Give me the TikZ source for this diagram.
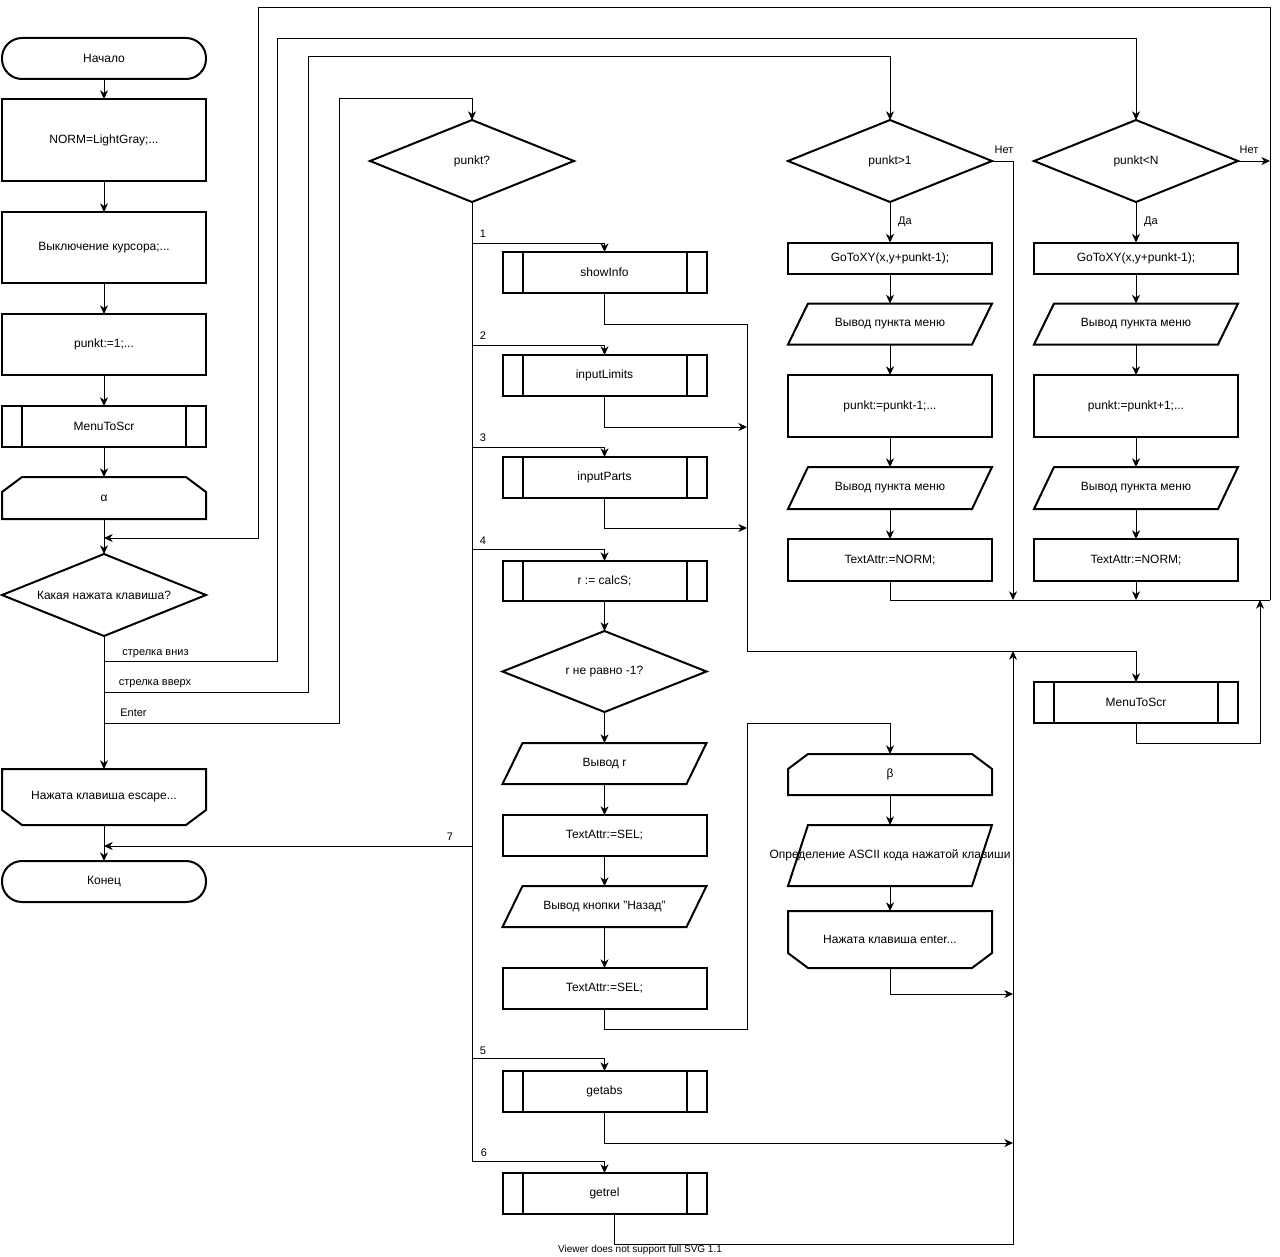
\documentclass[tikz,border=0pt]{standalone}
\usepackage{fontspec}
\setmainfont{Liberation Sans}
\usetikzlibrary{calc,arrows.meta}
\tikzset{
  blk/.style={rectangle, minimum width=153pt, inner sep=0pt, outer sep=0pt, font=\fontsize{9}{11}\selectfont, align=center},
  hh/.style={minimum height=#1*0.75pt},
  proc/.style={blk, draw, line width=1.5pt},
  term/.style={proc, rounded corners=15pt},
  shp/.style={line width=1.5pt, line join=miter},
  con/.style={line width=0.75pt},
  arr/.style={con, -{Stealth[length=6.5pt,width=6pt,inset=2pt]}},
  lbl/.style={font=\fontsize{8.25}{10}\selectfont, inner sep=0pt},
}
\newcommand\mydiam[1]{\draw[shp] (#1.west) -- (#1.north) -- (#1.east) -- (#1.south) -- cycle;}
\newcommand\mypara[1]{\draw[shp] (#1.south west) -- ($(#1.north west)+(20,0)$) -- (#1.north east) -- ($(#1.south east)+(-20,0)$) -- cycle;}
\newcommand\mysub[1]{\draw[shp] ($(#1.north west)+(20,0)$) -- ($(#1.south west)+(20,0)$);
  \draw[shp] ($(#1.north east)+(-20,0)$) -- ($(#1.south east)+(-20,0)$);}
\newcommand\mylimtop[1]{\draw[shp] (#1.south west) -- ($(#1.north west)+(0,15)$) -- ($(#1.north west)+(20,0)$) -- ($(#1.north east)+(-20,0)$) -- ($(#1.north east)+(0,15)$) -- (#1.south east) -- cycle;}
\newcommand\mylimbot[1]{\draw[shp] (#1.north west) -- (#1.north east) -- ($(#1.south east)+(0,-15)$) -- ($(#1.south east)+(-20,0)$) -- ($(#1.south west)+(20,0)$) -- ($(#1.south west)+(0,-15)$) -- cycle;}
\begin{document}
\begin{tikzpicture}[x=0.75pt,y=-0.75pt]
\fill[white] (0,0) rectangle (1280,1256);
\useasboundingbox (0,0) rectangle (1280,1256);

% ---------- left column ----------
\node[term,hh=41] (start) at (104,58.5) {Начало};
\node[proc,hh=82] (norm) at (104,140) {NORM=LightGray;...};
\node[proc,hh=71] (cur) at (104,247.5) {Выключение курсора;...};
\node[proc,hh=61] (p1) at (104,344.5) {punkt:=1;...};
\node[proc,hh=41] (mts1) at (104,426.5) {MenuToScr}; \mysub{mts1}
\node[blk,hh=42] (alpha) at (104,498) {α}; \mylimtop{alpha}
\node[blk,hh=82] (key) at (104,595) {Какая нажата клавиша?}; \mydiam{key}
\node[blk,hh=56] (esc) at (104,797) {Нажата клавиша escape...}; \mylimbot{esc}
\node[term,hh=41] (fin) at (104,881.5) {Конец};

% ---------- middle column ----------
\node[blk,hh=82] (pq) at (472,161) {punkt?}; \mydiam{pq}
\node[proc,hh=41] (si) at (604.5,272.5) {showInfo}; \mysub{si}
\node[proc,hh=41] (il) at (604.5,375.5) {inputLimits}; \mysub{il}
\node[proc,hh=41] (ip) at (604.5,477.5) {inputParts}; \mysub{ip}
\node[proc,hh=40] (cs) at (604.5,581) {r := calcS;}; \mysub{cs}
\node[blk,hh=81] (rd) at (604.5,671.5) {r не равно -1?}; \mydiam{rd}
\node[blk,hh=41] (outr) at (604.5,763.5) {Вывод r}; \mypara{outr}
\node[proc,hh=41] (sel1) at (604.5,835.5) {TextAttr:=SEL;};
\node[blk,hh=41] (back) at (604.5,906.5) {Вывод кнопки "Назад"}; \mypara{back}
\node[proc,hh=41] (sel2) at (604.5,988.5) {TextAttr:=SEL;};
\node[proc,hh=41] (ga) at (604.5,1091.5) {getabs}; \mysub{ga}
\node[proc,hh=41] (gr) at (604.5,1193.5) {getrel}; \mysub{gr}

% ---------- right column A ----------
\node[blk,hh=82] (gt) at (890,161) {punkt>1}; \mydiam{gt}
\node[proc,hh=31] (go1) at (890,258) {GoToXY(x,y+punkt-1);};
\node[blk,hh=41] (oa1) at (890,324) {Вывод пункта меню}; \mypara{oa1}
\node[proc,hh=62] (da) at (890,406) {punkt:=punkt-1;...};
\node[blk,hh=42] (oa2) at (890,488) {Вывод пункта меню}; \mypara{oa2}
\node[proc,hh=42] (na) at (890,560) {TextAttr:=NORM;};

% ---------- right column B ----------
\node[blk,hh=82] (lt) at (1136,161) {punkt<N}; \mydiam{lt}
\node[proc,hh=31] (go2) at (1136,258) {GoToXY(x,y+punkt-1);};
\node[blk,hh=41] (ob1) at (1136,324) {Вывод пункта меню}; \mypara{ob1}
\node[proc,hh=62] (db) at (1136,406) {punkt:=punkt+1;...};
\node[blk,hh=42] (ob2) at (1136,488) {Вывод пункта меню}; \mypara{ob2}
\node[proc,hh=42] (nb) at (1136,560) {TextAttr:=NORM;};
\node[proc,hh=41] (mts2) at (1136,702.5) {MenuToScr}; \mysub{mts2}

% ---------- key input block ----------
\node[blk,hh=41] (beta) at (890,774.5) {β}; \mylimtop{beta}
\node[blk,hh=61] (asc) at (890,855.5) {}; \mypara{asc}
\node[blk] (asct) at (asc) {Определение ASCII кода нажатой клавиши};
\node[blk,hh=57] (ent) at (890,939.5) {Нажата клавиша enter...}; \mylimbot{ent}

% ---------- junction coordinates ----------
\coordinate (jA) at (104,538);
\coordinate (kD) at (104,661);
\coordinate (kU) at (104,692);
\coordinate (kE) at (104,723);
\coordinate (j7) at (104,846);
\coordinate (t1) at (472,243);
\coordinate (t2) at (472,345);
\coordinate (t3) at (472,447);
\coordinate (t4) at (472,549);
\coordinate (t7) at (472,846);
\coordinate (t5) at (472,1058);
\coordinate (t6) at (472,1161);
\coordinate (m2) at (747,427);
\coordinate (m3) at (747,528);
\coordinate (mR) at (1270,600);
\coordinate (mA) at (1013,600);
\coordinate (mM) at (1260,600);
\coordinate (u1) at (1013,651);
\coordinate (r1) at (1013,994);
\coordinate (r2) at (1013,1143);

% ---------- main line ----------
\draw[arr] (start) -- (norm);
\draw[arr] (norm) -- (cur);
\draw[arr] (cur) -- (p1);
\draw[arr] (p1) -- (mts1);
\draw[arr] (mts1) -- (alpha);
\draw[arr] (alpha) -- (key);
\draw[arr] (key) -- (esc);
\draw[arr] (esc) -- (fin);

% loop back
\draw[arr] (mR) |- (258,8) |- (jA);
% key branches
\draw[arr] (kD) -| (277,39) -| (lt.north);
\draw[arr] (kU) -| (308,57) -| (gt.north);
\draw[arr] (kE) -| (339,98) -| (pq.north);
\node[lbl] (lD) at (155.5,654) {стрелка вниз};
\node[lbl] (lU) at (155,684) {стрелка вверх};
\node[lbl] (lE) at (133.5,713) {Enter};

% punkt? branches
\draw[con] (pq.south) -- (t6);
\draw[arr] (t1) -| (si.north);
\draw[arr] (t2) -| (il.north);
\draw[arr] (t3) -| (ip.north);
\draw[arr] (t4) -| (cs.north);
\draw[arr] (t5) -| (ga.north);
\draw[arr] (t6) -| (gr.north);
\draw[arr] (t7) -- (j7);
\node[lbl] (n1) at (483,234) {1};
\node[lbl] (n2) at (483,336) {2};
\node[lbl] (n3) at (483,438) {3};
\node[lbl] (n4) at (483,541) {4};
\node[lbl] (n5) at (483,1051) {5};
\node[lbl] (n6) at (484,1153) {6};
\node[lbl] (n7) at (450,837) {7};

\draw[arr] (si.south) |- (747,324) -- (747,651) -| (mts2.north);
\draw[arr] (il.south) |- (m2);
\draw[arr] (ip.south) |- (m3);

\draw[arr] (cs) -- (rd);
\draw[arr] (rd) -- (outr);
\draw[arr] (outr) -- (sel1);
\draw[arr] (sel1) -- (back);
\draw[arr] (back) -- (sel2);
\draw[arr] (sel2.south) |- (747,1029) -- (747,723) -| (beta.north);
\draw[arr] (beta) -- (asc);
\draw[arr] (asc) -- (ent);
\draw[arr] (ent.south) |- (r1);
\draw[arr] (ga.south) |- (r2);
\draw[arr] ($(gr.south)+(9.5,0)$) |- (1013,1244) -- (u1);

% right columns
\draw[arr] (gt.south) -- (go1);
\draw[arr] (go1) -- (oa1);
\draw[arr] (oa1) -- (da);
\draw[arr] (da) -- (oa2);
\draw[arr] (oa2) -- (na);
\draw[arr] (gt.east) -| (mA);
\node[lbl] (nA) at (1004,150) {Нет};
\node[lbl] (yA) at (905,221.5) {Да};

\draw[arr] (lt.south) -- (go2);
\draw[arr] (go2) -- (ob1);
\draw[arr] (ob1) -- (db);
\draw[arr] (db) -- (ob2);
\draw[arr] (ob2) -- (nb);
\draw[arr] (lt.east) -- (lt.east -| mR);
\node[lbl] (nB) at (1249,150) {Нет};
\node[lbl] (yB) at (1151,221.5) {Да};

\draw[con] (na.south) |- (mR);
\draw[arr] (nb.south) -- (nb.south |- mR);
\draw[arr] (mts2.south) |- (1260,743) -- (mM);

\node[font=\fontsize{7.5}{9}\selectfont, inner sep=0pt, anchor=base] (svg) at (640,1252) {Viewer does not support full SVG 1.1};
\end{tikzpicture}
\end{document}
